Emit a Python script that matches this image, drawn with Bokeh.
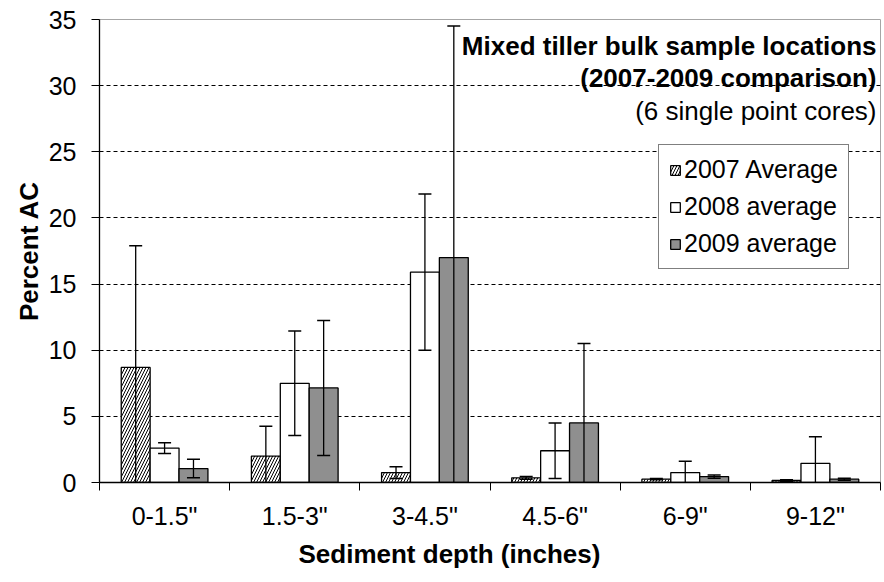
import numpy as np
from bokeh.plotting import figure
from bokeh.models import (FixedTicker, Range1d, Legend, LegendItem, Label, Title)
from bokeh.embed import file_html
from bokeh.resources import INLINE

categories = ['0-1.5"', '1.5-3"', '3-4.5"', '4.5-6"', '6-9"', '9-12"']
series_names = ["2007 Average", "2008 average", "2009 average"]
v2007 = [8.7, 2.0, 0.75, 0.35, 0.25, 0.15]
e2007 = [9.2, 2.25, 0.45, 0.1, 0.05, 0.05]
v2008 = [2.6, 7.5, 15.9, 2.4, 0.75, 1.45]
e2008 = [0.4, 3.95, 5.9, 2.1, 0.85, 2.0]
v2009 = [1.05, 7.15, 17.0, 4.5, 0.45, 0.25]
e2009 = [0.7, 5.1, 17.5, 6.0, 0.12, 0.08]
y_ticks = [0, 5, 10, 15, 20, 25, 30, 35]

FONT = "Liberation Sans"
W, H = 884, 582
p = figure(width=W, height=H, output_backend="svg", toolbar_location=None,
           x_range=Range1d(0, len(categories)), y_range=Range1d(0, 35),
           min_border_left=99, min_border_right=4, min_border_top=19,
           min_border_bottom=100)
p.background_fill_color = "white"
p.border_fill_color = "white"
p.outline_line_color = "#a6a6a6"
p.outline_line_width = 1

centers = np.arange(len(categories)) + 0.5
bw = 0.222

renderers = []
for k, (vals, style) in enumerate([
        (v2007, dict(fill_color="white", hatch_pattern="/", hatch_color="black",
                     hatch_scale=6, hatch_weight=1)),
        (v2008, dict(fill_color="white")),
        (v2009, dict(fill_color="#8f8f8f"))]):
    xs = centers + (k - 1) * bw
    r = p.vbar(x=xs, top=vals, width=bw, bottom=0, line_color="black",
               line_width=1.3, **style)
    renderers.append(r)

for k, (vals, errs) in enumerate([(v2007, e2007), (v2008, e2008), (v2009, e2009)]):
    xs = centers + (k - 1) * bw
    v = np.array(vals)
    e = np.array(errs)
    up = v + e
    lo_raw = v - e
    lo = np.maximum(lo_raw, 0)
    p.segment(x0=xs, y0=lo, x1=xs, y1=up, line_color="black", line_width=1.3)
    p.dash(x=xs, y=up, size=13, line_color="black", line_width=1.5)
    mask = lo_raw > 0
    p.dash(x=xs[mask], y=lo[mask], size=13, line_color="black", line_width=1.5)

# grid
p.xgrid.grid_line_color = None
p.ygrid.ticker = FixedTicker(ticks=y_ticks[1:-1])
p.ygrid.grid_line_color = "black"
p.ygrid.grid_line_dash = "4 3"
p.ygrid.grid_line_width = 1

# x axis
xa = p.xaxis[0]
xa.ticker = FixedTicker(ticks=list(centers), minor_ticks=list(range(len(categories) + 1)))
xa.major_label_overrides = {float(c): lab for c, lab in zip(centers, categories)}
xa.major_tick_line_color = None
xa.major_tick_out = 0
xa.major_tick_in = 0
xa.minor_tick_line_color = "black"
xa.minor_tick_out = 8
xa.minor_tick_in = 0
xa.axis_line_color = "black"
xa.axis_line_width = 1.3
xa.major_label_text_font = FONT
xa.major_label_text_font_size = "25px"
xa.major_label_text_color = "black"
xa.major_label_standoff = 11

# y axis
ya = p.yaxis[0]
ya.ticker = FixedTicker(ticks=y_ticks)
ya.minor_tick_line_color = None
ya.major_tick_out = 8
ya.major_tick_in = 0
ya.major_tick_line_color = "black"
ya.axis_line_color = "black"
ya.axis_line_width = 1.3
ya.major_label_text_font = FONT
ya.major_label_text_font_size = "25px"
ya.major_label_text_color = "black"
ya.major_label_standoff = 15
ya.axis_label = "Percent AC"
ya.axis_label_text_font = FONT
ya.axis_label_text_font_size = "26px"
ya.axis_label_text_font_style = "bold"
ya.axis_label_text_color = "black"
ya.axis_label_standoff = 2

# x axis title (offset left like the original)
xt = Title(text="Sediment depth (inches)", align="left", offset=199,
           text_font=FONT, text_font_size="26px", text_font_style="bold",
           text_color="black", standoff=8)
p.add_layout(xt, "below")

# chart title
title_lines = [("Mixed tiller bulk sample locations", "bold", 437),
               ("(2007-2009 comparison)", "bold", 405),
               ("(6 single point cores)", "normal", 372)]
for txt, style, yy in title_lines:
    p.add_layout(Label(x=777, y=yy, x_units="screen", y_units="screen", text=txt,
                       text_align="right", text_baseline="middle", text_font=FONT,
                       text_font_size="26px", text_font_style=style,
                       text_color="black"))

legend = Legend(items=[LegendItem(label=n, renderers=[r]) for n, r in zip(series_names, renderers)],
                location=(559, 213))
legend.border_line_color = "black"
legend.border_line_width = 1.3
legend.background_fill_color = "white"
legend.background_fill_alpha = 1
legend.label_text_font = FONT
legend.label_text_font_size = "25px"
legend.label_text_color = "black"
legend.glyph_width = 12
legend.glyph_height = 12
legend.label_standoff = 3
legend.spacing = 8
legend.padding = 10
legend.margin = 0
p.add_layout(legend, "center")

open("out.html", "w").write(file_html(p, INLINE))
